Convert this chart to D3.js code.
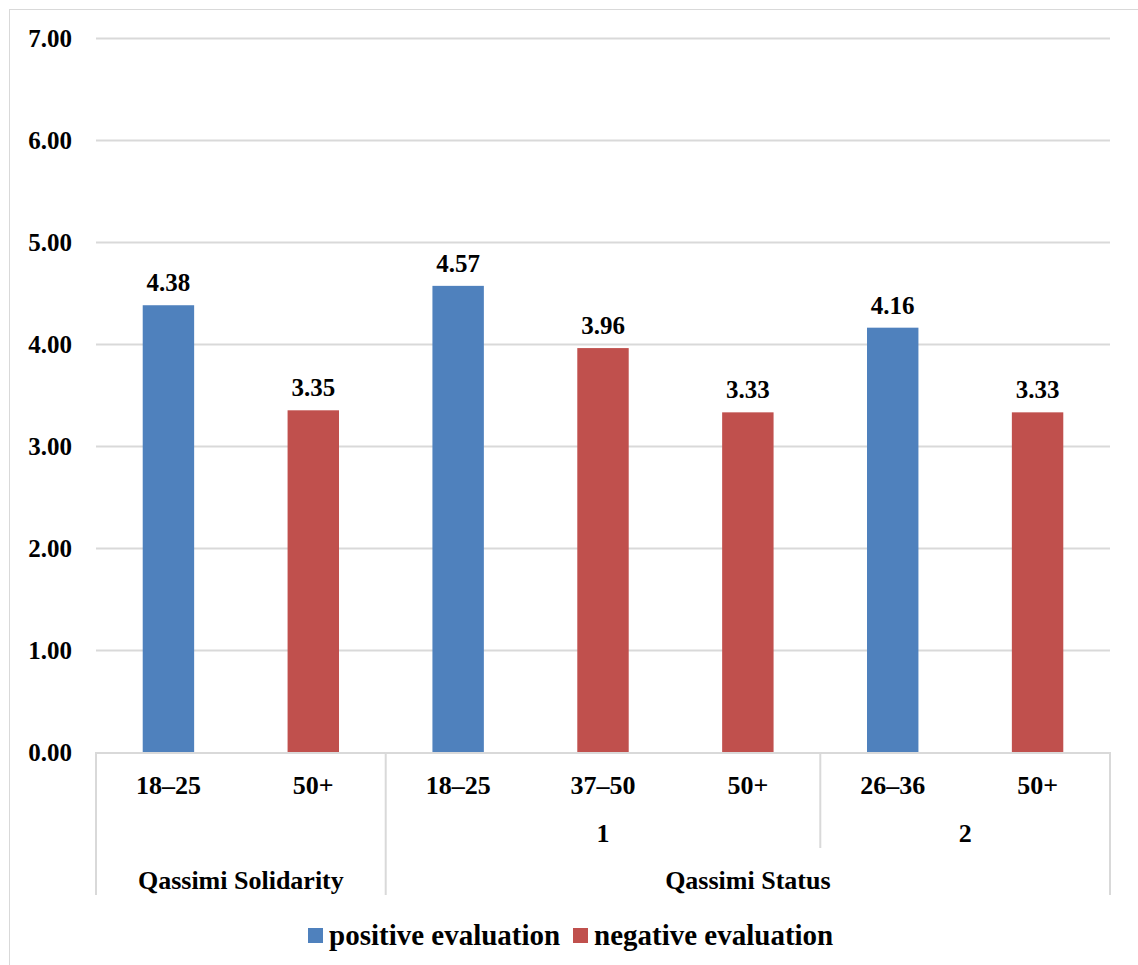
<!DOCTYPE html>
<html><head><meta charset="utf-8">
<script src="https://cdn.jsdelivr.net/npm/d3@7"></script>
<style>body{margin:0;background:#fff} svg text{font-family:"Times New Roman","Liberation Serif","DejaVu Serif",serif;font-weight:700}</style>
</head><body><svg id="c" width="1138" height="965"></svg>
<script>
const categories = ["18–25","50+","18–25","37–50","50+","26–36","50+"];
const subgroups = ["","","1","1","1","2","2"];
const groups = ["Qassimi Solidarity","Qassimi Solidarity","Qassimi Status","Qassimi Status","Qassimi Status","Qassimi Status","Qassimi Status"];
const positive = [4.38,null,4.57,null,null,4.16,null];
const negative = [null,3.35,null,3.96,3.33,null,3.33];
const yTicks = [0,1,2,3,4,5,6,7];
const seriesNames = ["positive evaluation","negative evaluation"];
const colors = ["#4f81bd","#c0504d"];

const svg = d3.select("#c");
const L=96,R=1110,T=38,B=752;
svg.append("rect").attr("x",9.5).attr("y",9.5).attr("width",1140).attr("height",970).attr("fill","none").attr("stroke","#d9d9d9");
const idx = categories.map((d,i)=>i);
const x = d3.scaleBand().domain(idx).range([L,R]).paddingInner(0).paddingOuter(0);
const y = d3.scaleLinear().domain([0,7]).range([B,T]);
const grid="#d9d9d9";
svg.append("g").selectAll("line").data(yTicks.filter(d=>d>0)).join("line")
 .attr("x1",L).attr("x2",R).attr("y1",d=>Math.round(y(d))+0.5).attr("y2",d=>Math.round(y(d))+0.5).attr("stroke",grid).attr("stroke-width",2);
svg.append("g").selectAll("text").data(yTicks).join("text")
 .attr("x",72).attr("y",d=>y(d)).attr("dy","0.35em").attr("text-anchor","end").attr("font-size",25).text(d=>d.toFixed(2));
const bw = x.bandwidth()*0.355;
const bars=[];
idx.forEach(i=>{ if(positive[i]!=null) bars.push({i,v:positive[i],s:0}); if(negative[i]!=null) bars.push({i,v:negative[i],s:1}); });
svg.append("g").selectAll("rect").data(bars).join("rect")
 .attr("x",d=>x(d.i)+x.bandwidth()/2-bw/2).attr("width",bw).attr("y",d=>y(d.v)).attr("height",d=>y(0)-y(d.v)).attr("fill",d=>colors[d.s]);
svg.append("g").selectAll("text").data(bars).join("text")
 .attr("x",d=>x(d.i)+x.bandwidth()/2).attr("y",d=>y(d.v)-14).attr("text-anchor","middle").attr("font-size",25).text(d=>d.v.toFixed(2));
const ax=svg.append("g").attr("stroke",grid).attr("stroke-width",2);
ax.append("line").attr("x1",L).attr("x2",R).attr("y1",B+1).attr("y2",B+1);
const bottom=895, midB=848;
function spans(arr){const out=[];arr.forEach((g,i)=>{if(out.length&&out[out.length-1].k===g&&out[out.length-1].e===i-1)out[out.length-1].e=i;else out.push({k:g,s:i,e:i});});return out;}
const gs=spans(groups), ss=spans(subgroups.map((s,i)=>groups[i]+"|"+s));
const xs=new Set();
gs.forEach(g=>{xs.add(x(g.s));xs.add(x(g.e)+x.bandwidth());});
xs.forEach(v=>ax.append("line").attr("x1",v).attr("x2",v).attr("y1",B).attr("y2",bottom));
ss.forEach(s=>{const v=x(s.s); if(!xs.has(v)) ax.append("line").attr("x1",v).attr("x2",v).attr("y1",B).attr("y2",midB);});
svg.append("g").selectAll("text").data(idx).join("text")
 .attr("x",i=>x(i)+x.bandwidth()/2).attr("y",785).attr("dy","0.35em").attr("text-anchor","middle").attr("font-size",26).text(i=>categories[i]);
svg.append("g").selectAll("text").data(ss.filter(s=>s.k.split("|")[1]!=="")).join("text")
 .attr("x",s=>(x(s.s)+x(s.e)+x.bandwidth())/2).attr("y",833).attr("dy","0.35em").attr("text-anchor","middle").attr("font-size",26).text(s=>s.k.split("|")[1]);
svg.append("g").selectAll("text").data(gs).join("text")
 .attr("x",s=>(x(s.s)+x(s.e)+x.bandwidth())/2).attr("y",880).attr("dy","0.35em").attr("text-anchor","middle").attr("font-size",26).text(s=>s.k);
const lg=svg.append("g");
const legX=[308,573];
seriesNames.forEach((n,i)=>{
 lg.append("rect").attr("x",legX[i]).attr("y",928).attr("width",15).attr("height",15).attr("fill",colors[i]);
 lg.append("text").attr("x",legX[i]+21).attr("y",935).attr("dy","0.35em").attr("font-size",29).text(n);
});
</script></body></html>
